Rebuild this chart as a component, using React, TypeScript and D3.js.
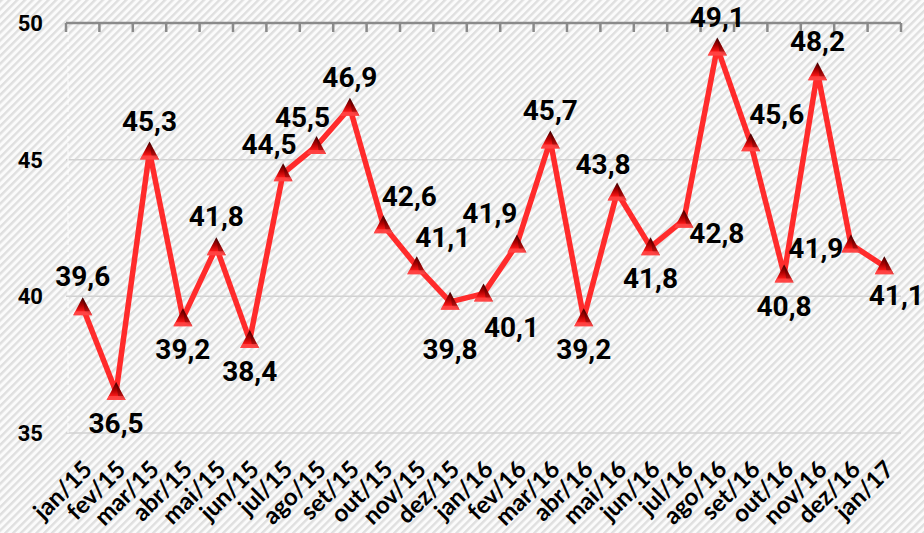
import React from 'react';
import * as d3 from 'd3';

const categories = [
  'jan/15', 'fev/15', 'mar/15', 'abr/15', 'mai/15', 'jun/15', 'jul/15', 'ago/15', 'set/15',
  'out/15', 'nov/15', 'dez/15', 'jan/16', 'fev/16', 'mar/16', 'abr/16', 'mai/16', 'jun/16',
  'jul/16', 'ago/16', 'set/16', 'out/16', 'nov/16', 'dez/16', 'jan/17',
];

const values = [
  39.6, 36.5, 45.3, 39.2, 41.8, 38.4, 44.5, 45.5, 46.9,
  42.6, 41.1, 39.8, 40.1, 41.9, 45.7, 39.2, 43.8, 41.8,
  42.8, 49.1, 45.6, 40.8, 48.2, 41.9, 41.1,
];

// where each data label sits relative to its point
const labelPlacement = [
  'T', 'B', 'T', 'B', 'T', 'B', 'TL', 'TL', 'T',
  'TR', 'TR', 'BB', 'BR', 'TLL', 'T', 'B', 'TL', 'B',
  'R', 'T', 'TR', 'B', 'T', 'L', 'Br',
];

const yTicks = [35, 40, 45, 50];

const W = 924;
const H = 533;

const offsets: Record<string, [number, number]> = {
  T: [0, -31],
  B: [0, 31],
  TL: [-14, -29],
  TLL: [-27, -31],
  TR: [26, -29],
  BR: [28, 33],
  Br: [12, 29],
  L: [-35, 4],
  R: [33, 13],
  BB: [0, 47],
};

const App: React.FC = () => {
  const x = d3.scaleBand<string>().domain(categories).range([66, 901]);
  const y = d3.scaleLinear().domain([35, 50]).range([433, 23]);
  const bw = x.bandwidth();
  const cx = (c: string) => (x(c) ?? 0) + bw / 2;

  const pts = categories.map((c, i) => ({ c, v: values[i], p: labelPlacement[i] }));
  const line = d3.line<{ c: string; v: number }>()
    .x(d => cx(d.c))
    .y(d => y(d.v));

  const boundaries = d3.range(categories.length + 1).map(i => 66 + i * bw);

  const labelFont = 'Roboto, "Liberation Sans", sans-serif';

  return (
    <div style={{ position: 'absolute', left: 0, top: 0 }}>
      <svg width={W} height={H} style={{ display: 'block' }}>
        <defs>
          <pattern id="stripes" patternUnits="userSpaceOnUse" width={5.5} height={5.5} patternTransform="rotate(45)">
            <rect width={5.5} height={5.5} fill="#fbfbfb" />
            <rect width={2.4} height={5.5} fill="#dfdfdf" />
          </pattern>
          <linearGradient id="tri" x1="0" y1="0" x2="0" y2="1">
            <stop offset="0%" stopColor="#3c0000" />
            <stop offset="45%" stopColor="#b00000" />
            <stop offset="80%" stopColor="#ff1a1a" />
            <stop offset="100%" stopColor="#ff3030" />
          </linearGradient>
        </defs>
        <rect width={W} height={H} fill="url(#stripes)" />

        {/* gridlines */}
        {yTicks.filter(t => t < 50).map(t => (
          <line key={t} x1={66} x2={901} y1={y(t)} y2={y(t)} stroke="#d2d2d2" strokeWidth={1.5} />
        ))}
        <line x1={68} x2={68} y1={31} y2={433} stroke="#ffffff" strokeWidth={1} strokeDasharray="4 3" />

        {/* top category axis */}
        <line x1={66} x2={901} y1={y(50)} y2={y(50)} stroke="#8a8a8a" strokeWidth={2.5} />
        {boundaries.map((bx, i) => (
          <line key={i} x1={bx} x2={bx} y1={y(50)} y2={y(50) + 9} stroke="#8a8a8a" strokeWidth={2.5} />
        ))}

        {/* y tick labels */}
        {yTicks.map(t => (
          <text key={t} x={43} y={y(t)} dy="0.36em" textAnchor="end"
            fontFamily={labelFont} fontWeight={700} fontSize={22} fill="#000">{t}</text>
        ))}

        {/* x labels */}
        {categories.map(c => (
          <text key={c} transform={`translate(${cx(c) + 11},471) rotate(-45)`} textAnchor="end"
            fontFamily='Lato, "Open Sans", sans-serif' fontWeight={700} fontSize={24} fill="#000">{c}</text>
        ))}

        {/* series */}
        <path d={line(pts) ?? ''} fill="none" stroke="#ff2b2b" strokeWidth={5.5} strokeLinejoin="round" />
        {pts.map(d => {
          const px = cx(d.c);
          const py = y(d.v);
          return (
            <g key={d.c} transform={`translate(${px},${py})`}>
              <polygon points="0,-10 9.5,8 -9.5,8" fill="url(#tri)" />
              <polygon points="0,-10 9.5,8 2,4" fill="#300000" opacity={0.35} />
              <polygon points="-9.5,8 9.5,8 7.4,4 -7.4,4" fill="#ff5050" opacity={0.7} />
            </g>
          );
        })}

        {/* data labels */}
        {pts.map(d => {
          const [dx, dy] = offsets[d.p];
          return (
            <text key={d.c} x={cx(d.c) + dx} y={y(d.v) + dy} dy="0.36em" textAnchor="middle"
              fontFamily={labelFont} fontWeight={700} fontSize={28} fill="#000">
              {d3.format('.1f')(d.v).replace('.', ',')}
            </text>
          );
        })}
      </svg>
    </div>
  );
};

export default App;
